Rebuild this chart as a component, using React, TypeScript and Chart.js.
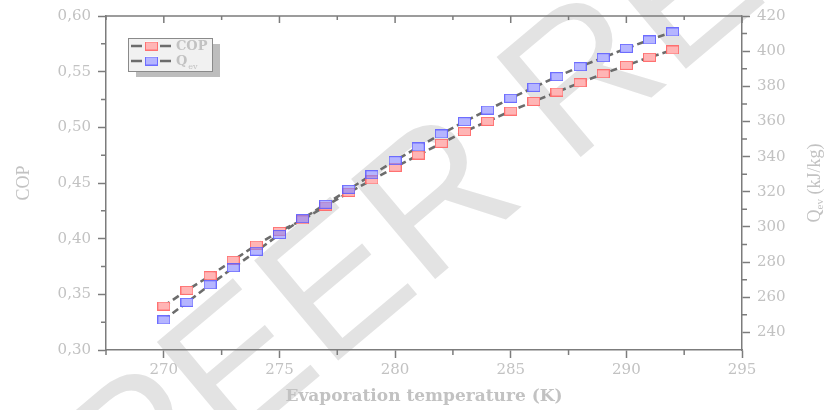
import React, { useEffect, useRef } from 'react';
import { Chart, registerables } from 'chart.js';

Chart.register(...registerables);

const temperatures = [270, 271, 272, 273, 274, 275, 276, 277, 278, 279, 280, 281, 282, 283, 284, 285, 286, 287, 288, 289, 290, 291, 292];
const copValues = [0.3395, 0.3536, 0.3667, 0.3806, 0.3943, 0.4066, 0.4168, 0.4293, 0.4416, 0.4527, 0.4641, 0.4751, 0.4856, 0.4961, 0.5054, 0.5146, 0.5233, 0.5317, 0.5401, 0.5481, 0.5557, 0.5629, 0.5695];
const qevValues = [247.1, 257.1, 267.1, 276.8, 286.2, 295.7, 304.7, 312.9, 321.4, 329.7, 337.7, 345.5, 352.9, 359.9, 366.5, 373.2, 379.4, 385.5, 391.2, 396.3, 401.6, 406.4, 410.9];
const xMinorTicks = [267.5, 272.5, 277.5, 282.5, 287.5, 292.5];
const copMinorTicks = [0.325, 0.375, 0.425, 0.475, 0.525, 0.575];
const qevMinorTicks = [250, 270, 290, 310, 330, 350, 370, 390, 410];
const xMajorTicks = [270, 275, 280, 285, 290, 295];

const AXIS = '#7c7c7c';
const TEXT = '#c2c2c2';
const TICK_FONT = { family: '"DejaVu Serif"', size: 15 };

function makeMarker(fill: string, stroke: string) {
  const c = document.createElement('canvas');
  c.width = 13;
  c.height = 9;
  const g = c.getContext('2d')!;
  g.fillStyle = fill;
  g.fillRect(0.5, 0.5, 12, 8);
  if (stroke) {
    g.strokeStyle = stroke;
    g.lineWidth = 1;
    g.strokeRect(0.5, 0.5, 12, 8);
  }
  return c;
}

const framePlugin = {
  id: 'frame',
  beforeDraw(chart: any) {
    const ctx = chart.ctx;
    ctx.save();
    ctx.translate(430, 215);
    ctx.rotate((-40 * Math.PI) / 180);
    ctx.font = '190px "Liberation Sans"';
    ctx.fillStyle = '#e3e3e3';
    ctx.textAlign = 'center';
    ctx.textBaseline = 'middle';
    ctx.fillText('FOR PEER REVIEW', 0, 0);
    ctx.restore();
  },
  afterDraw(chart: any) {
    const ctx = chart.ctx;
    const a = chart.chartArea;
    const xs = chart.scales.x;
    const ys = chart.scales.y;
    const y1 = chart.scales.y1;
    ctx.save();
    ctx.strokeStyle = AXIS;
    ctx.lineWidth = 1.5;
    ctx.beginPath();
    ctx.moveTo(a.left, a.top);
    ctx.lineTo(a.right, a.top);
    for (const v of xMajorTicks) {
      const px = xs.getPixelForValue(v);
      ctx.moveTo(px, a.top);
      ctx.lineTo(px, a.top + 7);
    }
    for (const v of xMinorTicks) {
      const px = xs.getPixelForValue(v);
      ctx.moveTo(px, a.top);
      ctx.lineTo(px, a.top + 4);
      ctx.moveTo(px, a.bottom);
      ctx.lineTo(px, a.bottom + 5);
    }
    for (const v of copMinorTicks) {
      const py = ys.getPixelForValue(v);
      ctx.moveTo(a.left, py);
      ctx.lineTo(a.left - 5, py);
    }
    for (const v of qevMinorTicks) {
      const py = y1.getPixelForValue(v);
      ctx.moveTo(a.right, py);
      ctx.lineTo(a.right + 5, py);
    }
    ctx.stroke();

    ctx.fillStyle = TEXT;
    ctx.textAlign = 'center';
    ctx.textBaseline = 'middle';
    ctx.font = 'bold 17px "DejaVu Serif"';
    ctx.fillText('Evaporation temperature (K)', (a.left + a.right) / 2, 397);

    ctx.save();
    ctx.translate(24, (a.top + a.bottom) / 2);
    ctx.rotate(-Math.PI / 2);
    ctx.font = '18px "Liberation Serif"';
    ctx.fillText('COP', 0, 0);
    ctx.restore();

    ctx.save();
    ctx.translate(815, (a.top + a.bottom) / 2);
    ctx.rotate(-Math.PI / 2);
    ctx.textAlign = 'left';
    const big = '18px "Liberation Serif"';
    const small = '11px "Liberation Serif"';
    ctx.font = big;
    const wQ = ctx.measureText('Q').width;
    const wRest = ctx.measureText(' (kJ/kg)').width;
    ctx.font = small;
    const wSub = ctx.measureText('ev').width;
    const total = wQ + wSub + wRest;
    const x0 = -total / 2;
    ctx.font = big;
    ctx.fillText('Q', x0, 0);
    ctx.font = small;
    ctx.fillText('ev', x0 + wQ, 5);
    ctx.font = big;
    ctx.fillText(' (kJ/kg)', x0 + wQ + wSub, 0);
    ctx.restore();

    // legend
    const lx = 128, ly = 38, lw = 84, lh = 33;
    ctx.fillStyle = '#bdbdbd';
    ctx.fillRect(lx + 8, ly + 6, lw, lh);
    ctx.fillStyle = '#f1f1f1';
    ctx.fillRect(lx, ly, lw, lh);
    ctx.strokeStyle = '#8a8a8a';
    ctx.lineWidth = 1;
    ctx.strokeRect(lx + 0.5, ly + 0.5, lw, lh);
    const items = [
      { label: 'COP', sub: '', marker: chart.data.datasets[4].pointStyle, y: ly + 8 },
      { label: 'Q', sub: 'ev', marker: chart.data.datasets[5].pointStyle, y: ly + 23 },
    ];
    for (const it of items) {
      ctx.strokeStyle = '#6c6c6c';
      ctx.lineWidth = 2.5;
      ctx.beginPath();
      ctx.moveTo(lx + 3, it.y);
      ctx.lineTo(lx + 14, it.y);
      ctx.moveTo(lx + 32, it.y);
      ctx.lineTo(lx + 43, it.y);
      ctx.stroke();
      ctx.fillStyle = '#ffffff';
      ctx.fillRect(lx + 17, it.y - 4.5, 13, 9);
      ctx.drawImage(it.marker, lx + 17, it.y - 4.5);
      ctx.fillStyle = TEXT;
      ctx.textAlign = 'left';
      ctx.textBaseline = 'middle';
      ctx.font = 'bold 13px "DejaVu Serif"';
      ctx.fillText(it.label, lx + 48, it.y + 1);
      if (it.sub) {
        const w = ctx.measureText(it.label).width;
        ctx.font = '8px "DejaVu Serif"';
        ctx.fillText(it.sub, lx + 48 + w + 1, it.y + 6);
      }
    }
    ctx.restore();
  },
};

export default function App() {
  const ref = useRef<HTMLCanvasElement | null>(null);
  useEffect(() => {
    const redMarker = makeMarker('rgba(255,135,135,0.62)', 'rgba(255,95,95,0.85)');
    const blueMarker = makeMarker('rgba(135,135,255,0.62)', 'rgba(90,90,255,0.85)');
    const whiteMarker = makeMarker('#ffffff', '');
    const lineStyle = {
      borderColor: '#6c6c6c',
      borderWidth: 2.6,
      borderDash: [7, 4],
      fill: false,
      tension: 0,
      pointRadius: 0,
    };
    const copPts = temperatures.map((t, i) => ({ x: t, y: copValues[i] }));
    const qevPts = temperatures.map((t, i) => ({ x: t, y: qevValues[i] }));
    const chart = new Chart(ref.current!, {
      type: 'line',
      data: {
        datasets: [
          { label: 'COP line', data: copPts, yAxisID: 'y', order: 5, ...lineStyle },
          { label: 'Qev line', data: qevPts, yAxisID: 'y1', order: 4, ...lineStyle },
          { label: 'COP base', data: copPts, yAxisID: 'y', showLine: false, pointStyle: whiteMarker as any, pointRadius: 6, order: 3 },
          { label: 'Qev base', data: qevPts, yAxisID: 'y1', showLine: false, pointStyle: whiteMarker as any, pointRadius: 6, order: 2 },
          {
            label: 'COP',
            data: copPts,
            yAxisID: 'y',
            showLine: false,
            pointStyle: redMarker as any,
            pointRadius: 6,
            order: 1,
          },
          {
            label: 'Qev',
            data: qevPts,
            yAxisID: 'y1',
            showLine: false,
            pointStyle: blueMarker as any,
            pointRadius: 6,
            order: 0,
          },
        ],
      },
      options: {
        animation: false,
        responsive: true,
        maintainAspectRatio: false,
        layout: { padding: { top: 16, left: 0, right: 0, bottom: 0 } },
        plugins: { legend: { display: false }, tooltip: { enabled: false } },
        scales: {
          x: {
            type: 'linear',
            position: 'bottom',
            min: 267.5,
            max: 295,
            ticks: { stepSize: 5, includeBounds: false, color: TEXT, font: TICK_FONT, padding: 3, maxRotation: 0 },
            grid: { drawOnChartArea: false, tickLength: 8, tickColor: AXIS, tickWidth: 1.5 },
            border: { color: AXIS, width: 1.5 },
            afterFit: (s: any) => { s.height = 60; },
          },
          y: {
            type: 'linear',
            position: 'left',
            min: 0.3,
            max: 0.6,
            ticks: {
              stepSize: 0.05,
              includeBounds: false,
              color: TEXT,
              font: TICK_FONT,
              padding: 7,
              callback: (v: any) => Number(v).toFixed(2).replace('.', ','),
            },
            grid: { drawOnChartArea: false, tickLength: 8, tickColor: AXIS, tickWidth: 1.5 },
            border: { color: AXIS, width: 1.5 },
            afterFit: (s: any) => { s.width = 106; },
          },
          y1: {
            type: 'linear',
            position: 'right',
            min: 230,
            max: 420,
            ticks: { stepSize: 20, includeBounds: false, color: TEXT, font: TICK_FONT, padding: 7 },
            grid: { drawOnChartArea: false, tickLength: 8, tickColor: AXIS, tickWidth: 1.5 },
            border: { color: AXIS, width: 1.5 },
            afterFit: (s: any) => { s.width = 85; },
          },
        },
      },
      plugins: [framePlugin],
    });
    return () => chart.destroy();
  }, []);
  return (
    <div style={{ position: 'absolute', left: 0, top: 0, width: 827, height: 410 }}>
      <canvas ref={ref} />
    </div>
  );
}
